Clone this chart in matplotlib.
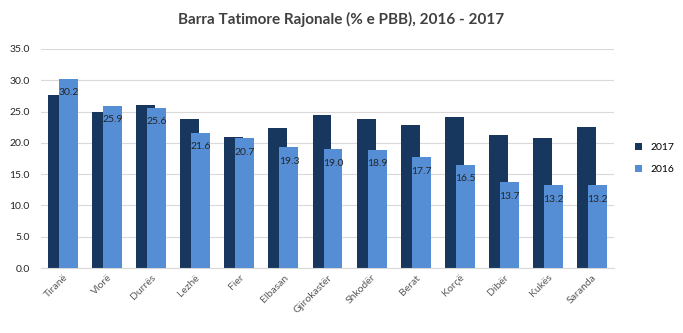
import matplotlib.pyplot as plt
import numpy as np

plt.rcParams["font.family"] = ["Lato", "DejaVu Sans"]

regions = ["Tiranë", "Vlorë", "Durrës", "Lezhë", "Fier", "Elbasan", "Gjirokastër",
           "Shkodër", "Berat", "Korçë", "Dibër", "Kukës", "Saranda"]
vals_2017 = [27.6, 25.0, 26.0, 23.8, 20.9, 22.4, 24.4, 23.8, 22.8, 24.1, 21.2, 20.8, 22.5]
vals_2016 = [30.2, 25.9, 25.6, 21.6, 20.7, 19.3, 19.0, 18.9, 17.7, 16.5, 13.7, 13.2, 13.2]

DARK = "#17375E"
LIGHT = "#558ED5"

fig = plt.figure(figsize=(6.83, 3.33), dpi=100)
ax = fig.add_axes([0.060, 0.195, 0.839, 0.658])

x = np.arange(len(regions))
w = 0.43
ax.bar(x - 0.125, vals_2017, w, color=DARK, label="2017", zorder=2)
b16 = ax.bar(x + 0.125, vals_2016, w, color=LIGHT, label="2016", zorder=3)
for bar, v in zip(b16, vals_2016):
    ax.annotate(f"{v:.1f}", (bar.get_x() + bar.get_width() / 2, v),
                textcoords="offset points", xytext=(0, -10), ha="center", va="center",
                fontsize=7.5, color="#262626", zorder=4)

ax.set_xlim(-0.5, len(regions) - 0.5)
ax.set_ylim(0, 35)
ax.set_yticks(np.arange(0, 35.1, 5))
ax.set_yticklabels([f"{t:.1f}" for t in np.arange(0, 35.1, 5)], fontsize=7.5, color="#262626")
ax.set_xticks(x)
ax.set_xticklabels(regions, rotation=45, ha="right", rotation_mode="anchor",
                   fontsize=7.5, color="#595959")
ax.tick_params(axis="both", length=0)
ax.tick_params(axis="y", pad=8)
ax.grid(axis="y", color="#D9D9D9", linewidth=0.8, zorder=0)
ax.set_axisbelow(True)
for s in ["top", "right", "left"]:
    ax.spines[s].set_visible(False)
ax.spines["bottom"].set_color("#D9D9D9")

ax.legend(loc="center left", bbox_to_anchor=(1.02, 0.5), frameon=False, fontsize=7.5,
          handlelength=0.7, handleheight=0.7, labelspacing=1.2)

fig.suptitle("Barra Tatimore Rajonale (% e PBB), 2016 - 2017", x=0.5, y=0.965,
             fontsize=11, fontweight="bold", color="#404040")

fig.savefig("out.png", dpi=100)
